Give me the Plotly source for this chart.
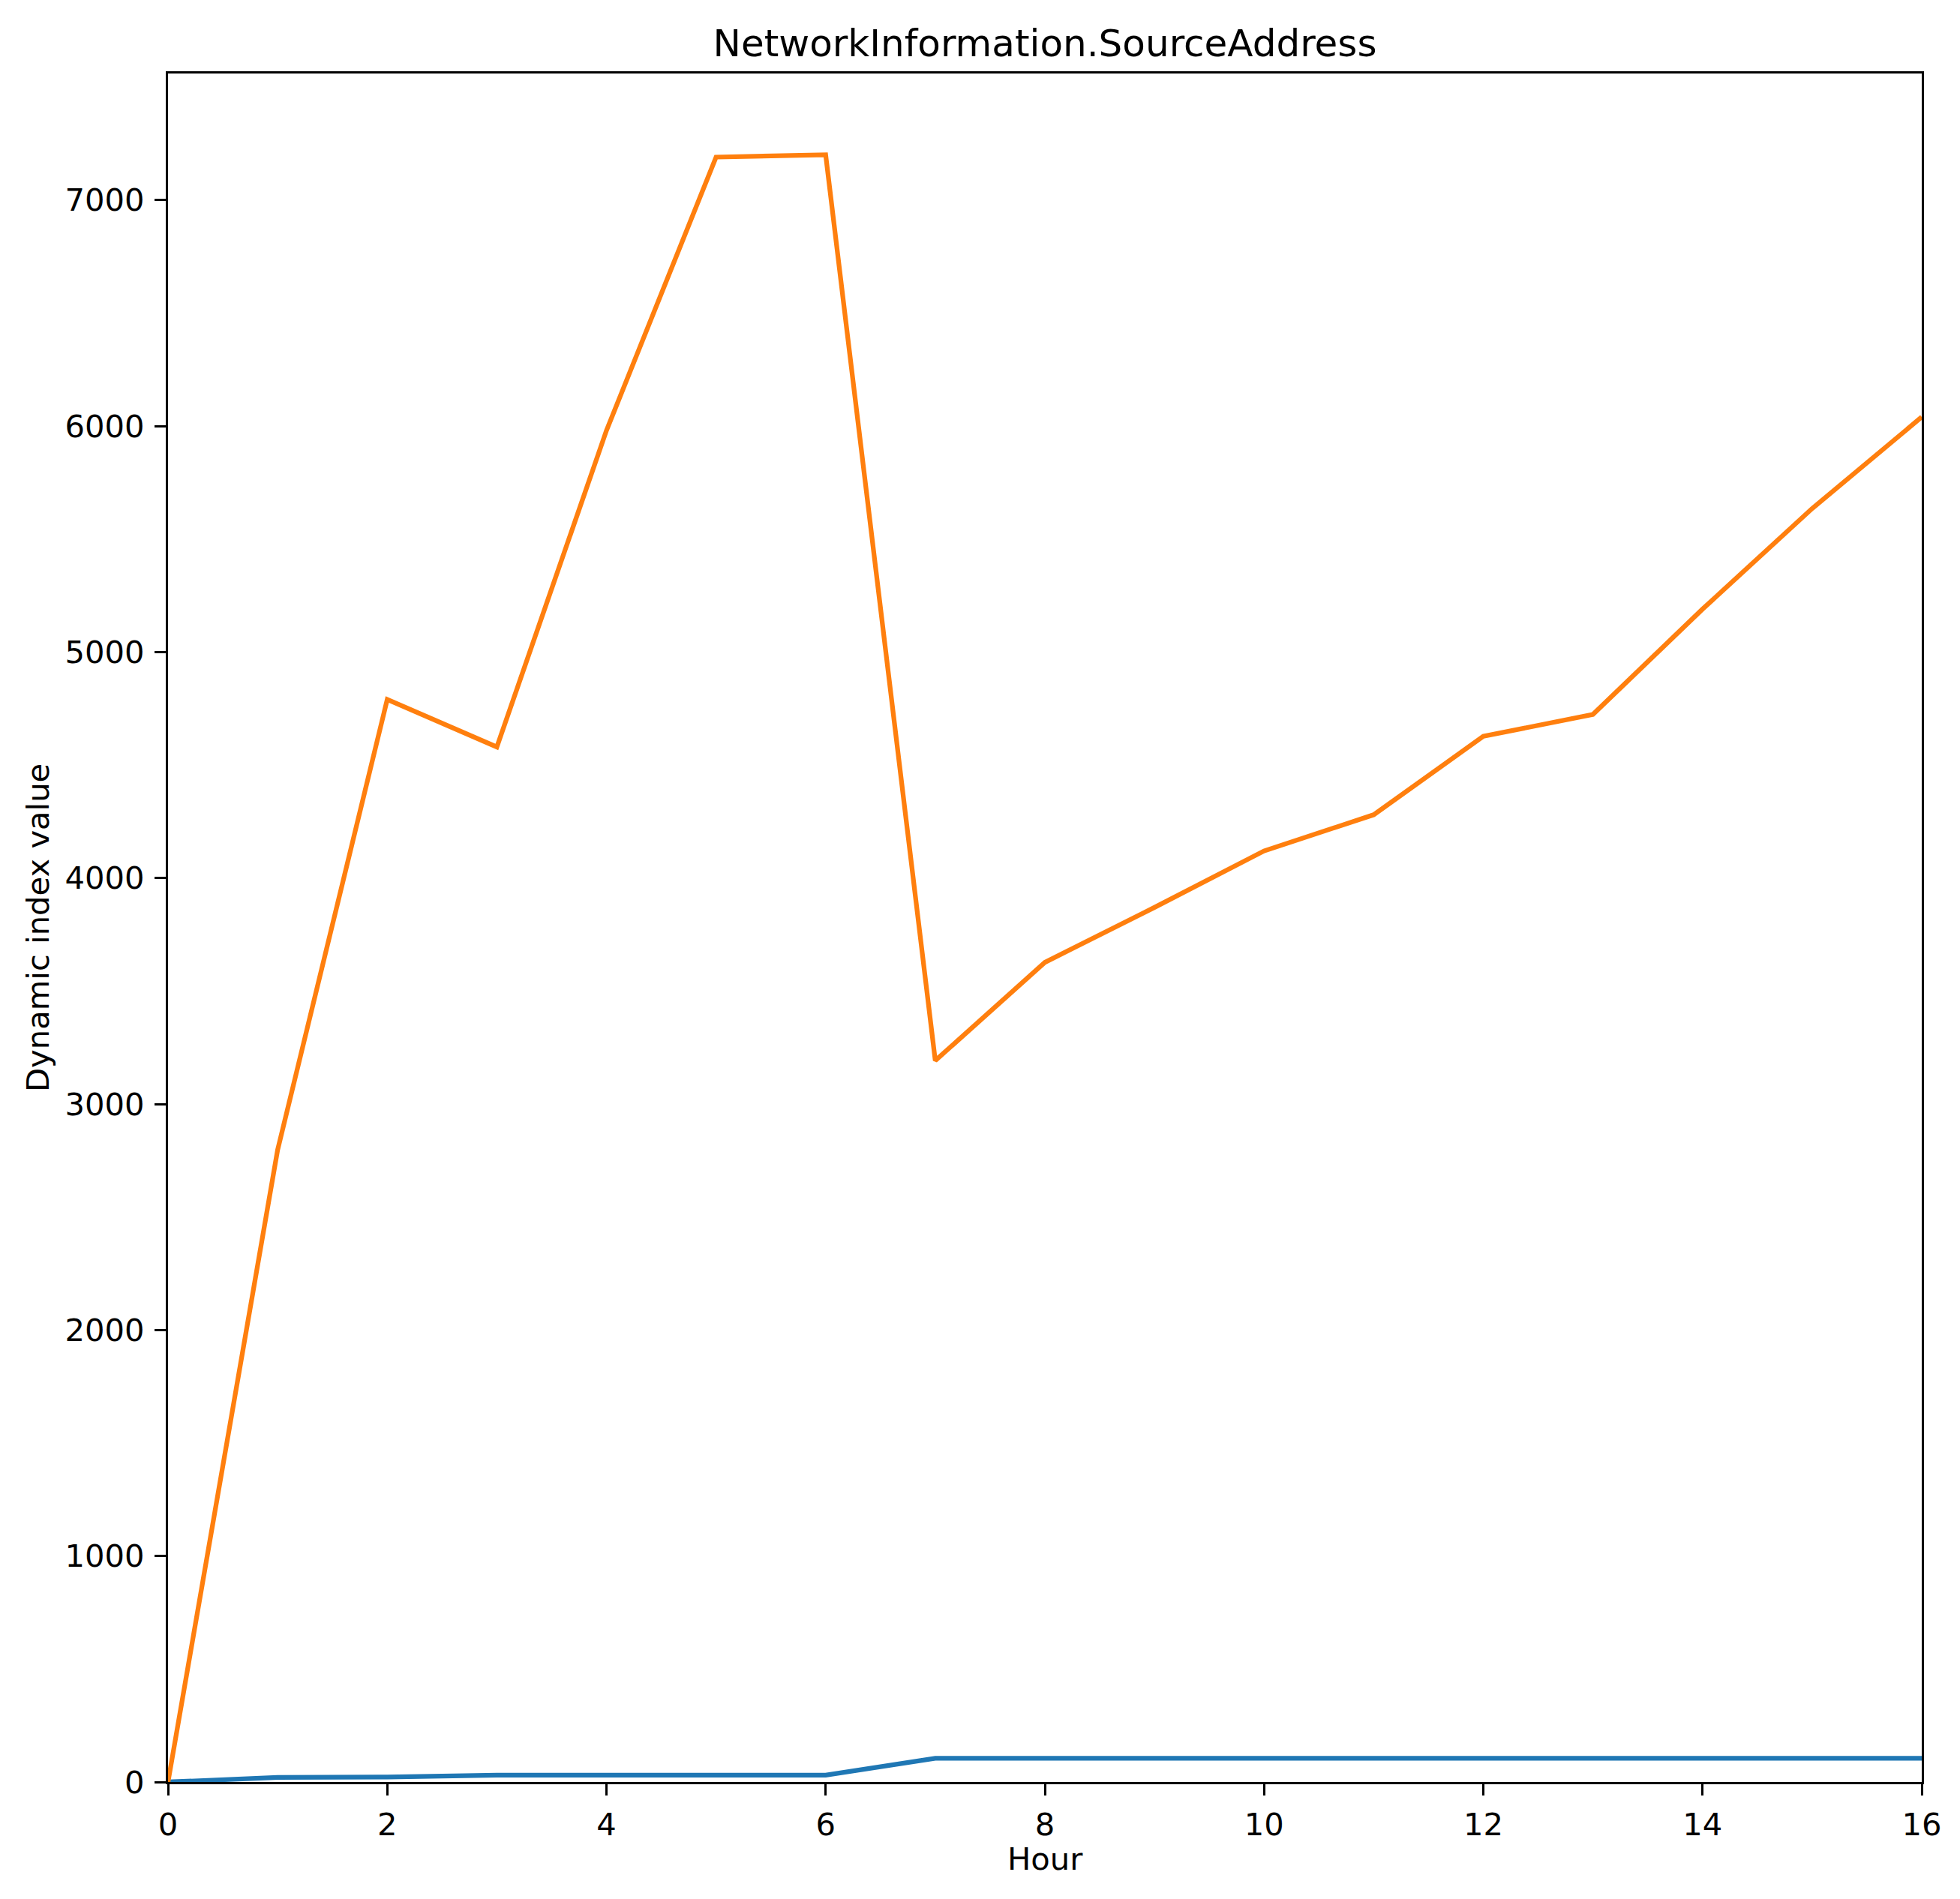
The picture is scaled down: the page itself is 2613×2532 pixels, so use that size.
import plotly.graph_objects as go

# Hourly values
hours = list(range(17))
series_low = [0, 20, 22, 30, 30, 30, 30, 105, 105, 105, 105, 105, 105, 105, 105, 105, 105]
series_high = [0, 2797, 4790, 4580, 5980, 7190, 7200, 3192, 3627, 3870, 4120,
               4280, 4627, 4724, 5190, 5635, 6040]

# page body has an 8px margin, so the figure is drawn 8px in from the corner
OFF = 8
W, H = 2613 - 2 * OFF, 2532 - 2 * OFF
L, R, T, B = 224 - OFF, 51 - OFF, 98 - OFF, 156 - OFF
pw, ph = W - L - R, H - T - B

font = dict(family="DejaVu Sans", color="black")

fig = go.Figure()

fig.add_trace(go.Scatter(
    x=hours, y=series_low, mode="lines",
    line=dict(color="#1f77b4", width=6.25),
    showlegend=False,
))
fig.add_trace(go.Scatter(
    x=hours, y=series_high, mode="lines",
    line=dict(color="#ff7f0e", width=6.25),
    showlegend=False,
))

axis_common = dict(
    showline=True, linecolor="black", linewidth=3.3, mirror=True,
    ticks="outside", ticklen=15, tickwidth=3.3, tickcolor="black",
    showgrid=False, zeroline=False,
    tickfont=dict(size=41.7, **font),
)

fig.update_xaxes(range=[0, 16], tickvals=list(range(0, 17, 2)),
                 ticklabelstandoff=3, **axis_common)
fig.update_yaxes(range=[0, 7560], tickvals=list(range(0, 8000, 1000)),
                 ticklabelstandoff=5, **axis_common)

# axis titles placed as annotations
fig.add_annotation(
    text="Hour", xref="paper", yref="paper",
    x=0.5, y=-(2478 - 2376) / ph, xanchor="center", yanchor="middle",
    showarrow=False, font=dict(size=41.7, **font),
)
fig.add_annotation(
    text="Dynamic index value", xref="paper", yref="paper",
    x=(50 - 224) / pw, y=0.5, xanchor="center", yanchor="middle",
    textangle=-90, showarrow=False, font=dict(size=41.7, **font),
)

fig.update_layout(
    width=W, height=H,
    margin=dict(l=L, r=R, t=T, b=B, pad=0),
    paper_bgcolor="white", plot_bgcolor="white",
    title=dict(
        text="NetworkInformation.SourceAddress",
        x=0.5, xref="paper", xanchor="center",
        y=1 - (57 - OFF) / H, yref="container", yanchor="middle",
        font=dict(size=50, **font),
    ),
)

fig.write_html("out.html")
